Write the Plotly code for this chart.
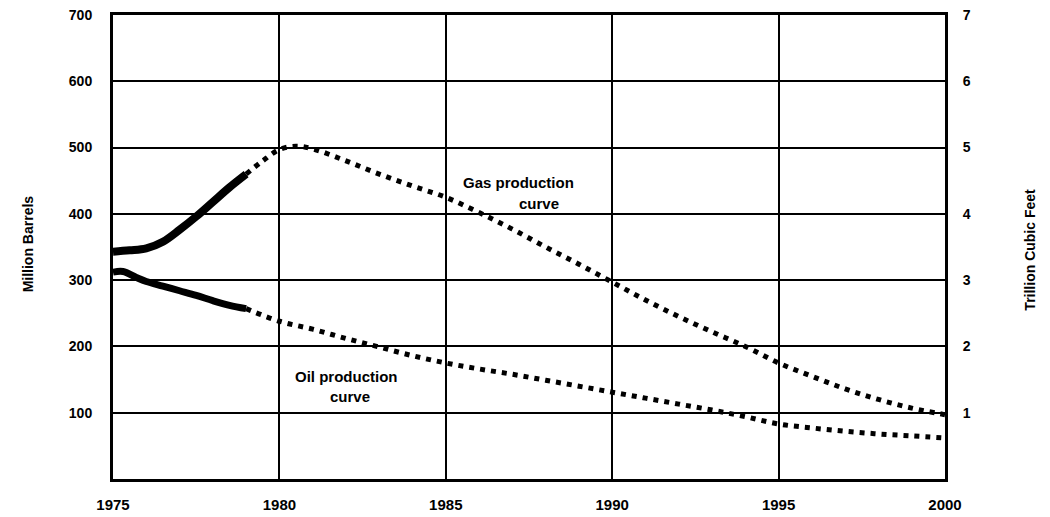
import plotly.graph_objects as go

# ---- data ----
gas_solid_years = [1975, 1975.5, 1976, 1976.5, 1977, 1977.5, 1978, 1978.5, 1979]
gas_solid_tcf = [3.43, 3.45, 3.48, 3.58, 3.76, 3.96, 4.18, 4.40, 4.60]

gas_proj_years = [1979, 1979.5, 1980, 1980.5, 1981, 1982, 1983, 1984, 1985, 1986, 1987,
                  1988, 1989, 1990, 1991, 1992, 1993, 1994, 1995, 1996, 1997, 1998, 1999, 2000]
gas_proj_tcf = [4.60, 4.80, 4.97, 5.02, 4.98, 4.80, 4.60, 4.42, 4.25, 4.02, 3.77,
                3.50, 3.24, 2.97, 2.70, 2.45, 2.22, 2.00, 1.75, 1.55, 1.36, 1.20, 1.07, 0.97]

oil_solid_years = [1975, 1975.3, 1975.7, 1976, 1976.5, 1977, 1977.5, 1978, 1978.5, 1979]
oil_solid_mb = [312, 313, 304, 298, 291, 284, 277, 269, 262, 257]

oil_proj_years = [1979, 1980, 1981, 1982, 1983, 1984, 1985, 1986, 1987, 1988, 1989,
                  1990, 1991, 1992, 1993, 1994, 1995, 1996, 1997, 1998, 1999, 2000]
oil_proj_mb = [257, 238, 226, 212, 199, 186, 175, 166, 158, 149, 140,
               131, 122, 113, 104, 94, 83, 77, 72, 68, 65, 62]

x_ticks = [1975, 1980, 1985, 1990, 1995, 2000]
left_ticks = [100, 200, 300, 400, 500, 600, 700]
right_ticks = [1, 2, 3, 4, 5, 6, 7]

FONT = "Liberation Sans"
BLACK = "#000000"
DOT = "5px,6px"


def bold(size):
    return dict(family=FONT, size=size, color=BLACK, weight="bold")


fig = go.Figure()
fig.add_trace(go.Scatter(x=oil_solid_years, y=oil_solid_mb, mode="lines",
                         line=dict(color=BLACK, width=7, shape="spline"), showlegend=False))
fig.add_trace(go.Scatter(x=oil_proj_years, y=oil_proj_mb, mode="lines",
                         line=dict(color=BLACK, width=5, dash=DOT, shape="spline"), showlegend=False))
fig.add_trace(go.Scatter(x=gas_solid_years, y=gas_solid_tcf, mode="lines", yaxis="y2",
                         line=dict(color=BLACK, width=8, shape="spline"), showlegend=False))
fig.add_trace(go.Scatter(x=gas_proj_years, y=gas_proj_tcf, mode="lines", yaxis="y2",
                         line=dict(color=BLACK, width=5, dash=DOT, shape="spline"), showlegend=False))

fig.update_layout(
    width=1050, height=517,
    margin=dict(l=113, r=105, t=15, b=38),
    paper_bgcolor="white", plot_bgcolor="white",
    xaxis=dict(range=[1975, 2000], tickvals=x_ticks, ticktext=[str(v) for v in x_ticks],
               showgrid=True, gridcolor=BLACK, gridwidth=2, zeroline=False,
               showline=True, linecolor=BLACK, linewidth=3, mirror=True, automargin=False,
               ticks="", tickfont=bold(15), ticklabelstandoff=10),
    yaxis=dict(range=[0, 700], tickvals=left_ticks, ticktext=[str(v) for v in left_ticks],
               showgrid=True, gridcolor=BLACK, gridwidth=2, zeroline=False, automargin=False,
               showline=True, linecolor=BLACK, linewidth=3,
               ticks="", tickfont=bold(14), ticklabelstandoff=15),
    yaxis2=dict(range=[0, 7], tickvals=right_ticks, ticktext=[str(v) for v in right_ticks],
                overlaying="y", side="right", showgrid=False, zeroline=False, automargin=False,
                showline=True, linecolor=BLACK, linewidth=3,
                ticks="", tickfont=bold(14), ticklabelstandoff=12),
    annotations=[
        dict(text="Million Barrels", x=-0.114, y=0.506, xref="paper", yref="paper",
             textangle=-90, showarrow=False, font=bold(14)),
        dict(text="Trillion Cubic Feet", x=1.114, y=0.494, xref="paper", yref="paper",
             textangle=-90, showarrow=False, font=bold(14)),
        dict(text="Gas production", x=1985.46, y=4.48, xref="x", yref="y2", xanchor="left",
             showarrow=False, font=bold(15)),
        dict(text="curve", x=1987.14, y=4.16, xref="x", yref="y2", xanchor="left",
             showarrow=False, font=bold(15)),
        dict(text="Oil production", x=1982.02, y=155, xref="x", yref="y", xanchor="center",
             showarrow=False, font=bold(15)),
        dict(text="curve", x=1982.12, y=125, xref="x", yref="y", xanchor="center",
             showarrow=False, font=bold(15)),
    ],
)

fig.write_html("out.html", post_script="document.body.style.margin='0';",
               config={"displayModeBar": False})
